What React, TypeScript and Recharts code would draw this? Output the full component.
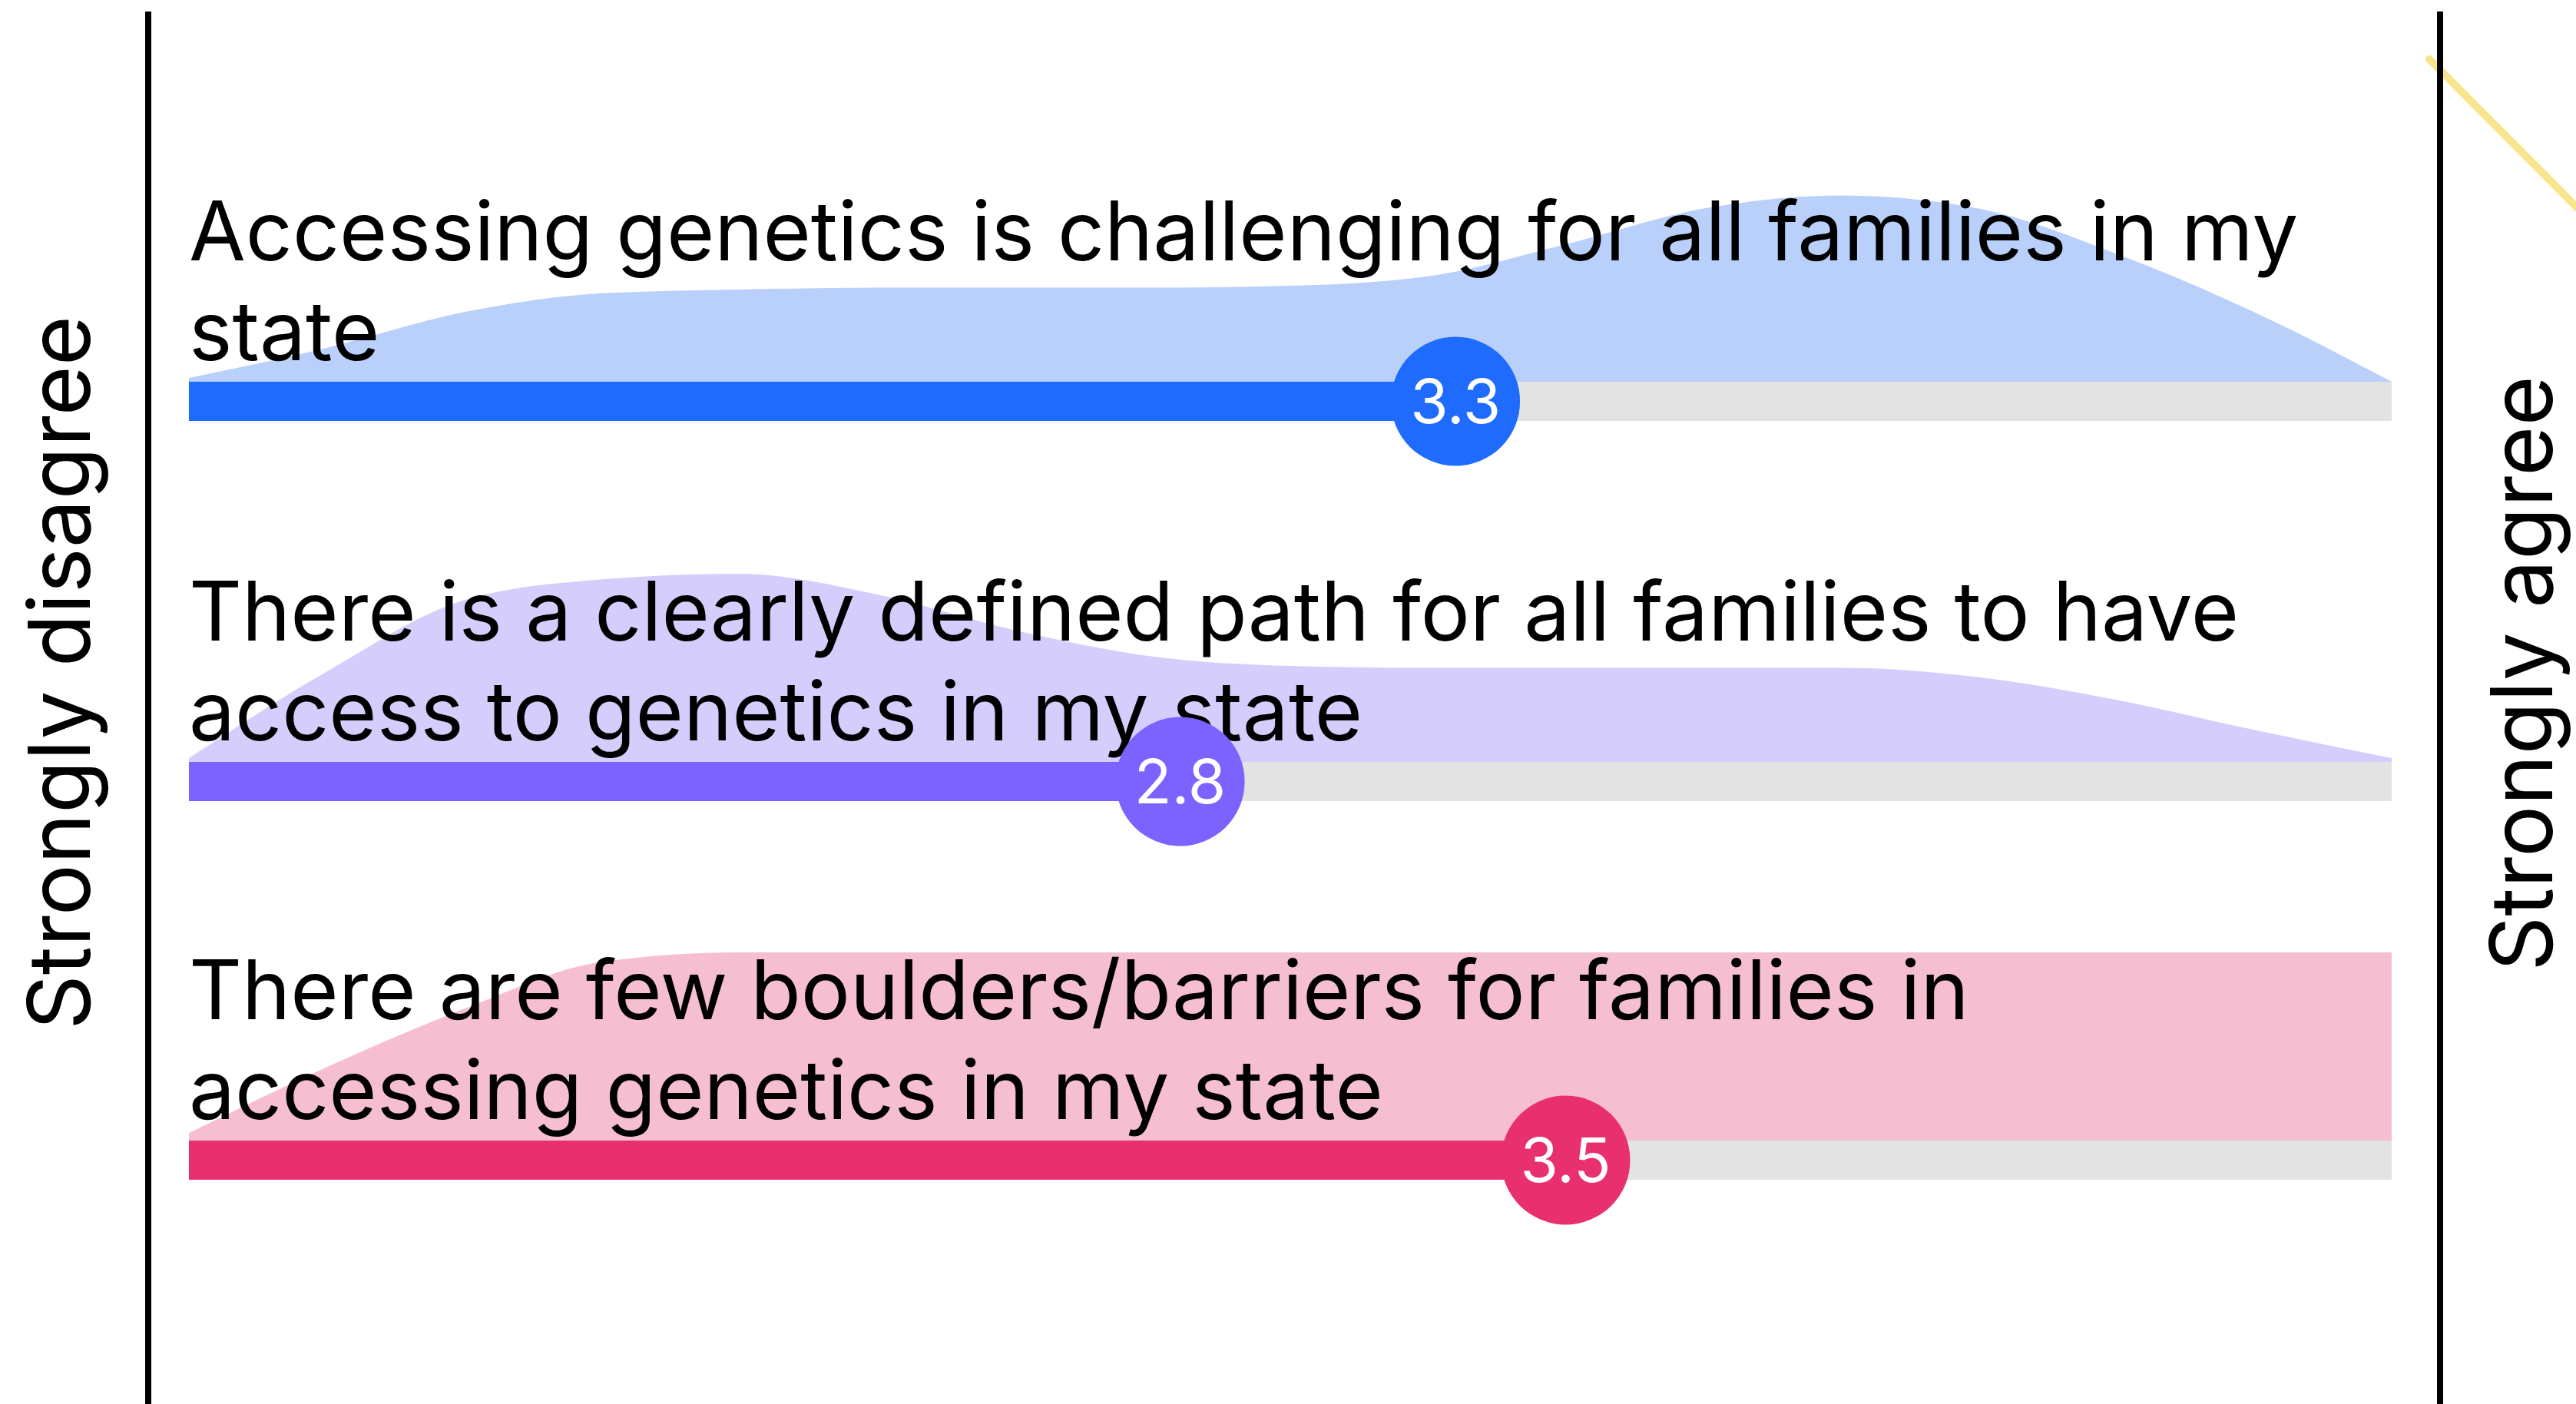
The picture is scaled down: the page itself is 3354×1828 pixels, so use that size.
import { ComposedChart, Area, XAxis, YAxis, ReferenceArea, ReferenceDot } from 'recharts';

// Likert scale positions (1 = strongly disagree, 5 = strongly agree)
const scalePoints = [1, 1.25, 1.5, 1.75, 2, 2.25, 2.5, 2.75, 3, 3.25, 3.5, 3.75, 4, 4.25, 4.5, 4.75, 5];

// response density, % of the tallest peak
const challengingDensity = [2, 18, 37, 47, 49, 50, 50, 50, 51, 56, 73, 92, 99, 92, 68, 37, 0];
const clearPathDensity = [2, 48, 86, 97, 100, 89, 70, 56, 51, 50, 50, 50, 50, 45, 33, 17, 2];
const fewBarriersDensity = [4, 39, 70, 95, 100, 100, 100, 100, 100, 100, 100, 100, 100, 100, 100, 100, 100];

const meanScores = [3.3, 2.8, 3.5];

const questionLines = [
  ['Accessing genetics is challenging for all families in my', 'state'],
  ['There is a clearly defined path for all families to have', 'access to genetics in my state'],
  ['There are few boulders/barriers for families in', 'accessing genetics in my state'],
];

const scaleLabels = ['Strongly disagree', 'Strongly agree'];

const W = 3354;
const H = 1828;
const BAR_TOPS = [497, 992, 1485];
const BAR_H = 51;
const DENSITY_PX = 2.45;
const FONT = 'Inter, "Noto Sans", sans-serif';

const colors = [
  { bar: '#1e6bfe', area: '#b9d0fb' },
  { bar: '#7c62fe', area: '#d5cefc' },
  { bar: '#e9306f', area: '#f5bed1' },
];

const densities = [challengingDensity, clearPathDensity, fewBarriersDensity];

const chartData = scalePoints.map((x, i) => ({
  x,
  d0: densities[0][i],
  d1: densities[1][i],
  d2: densities[2][i],
}));

const baseOf = (i: number) => H - BAR_TOPS[i];

function QuestionLabel(props: any) {
  const vb = props.viewBox || props;
  const x = vb.x;
  const y = vb.y;
  return (
    <text x={x} y={y - 158} fill="#000" fontSize={107} fontFamily={FONT}>
      <tspan x={x}>{props.lines[0]}</tspan>
      <tspan x={x} dy={130}>
        {props.lines[1]}
      </tspan>
    </text>
  );
}

export default function App() {
  return (
    <div style={{ position: 'absolute', left: 0, top: 0, width: W, height: H, background: '#fff', overflow: 'hidden' }}>
      <ComposedChart width={W} height={H} data={chartData} margin={{ top: 0, right: 240, bottom: 0, left: 246 }}>
        <XAxis dataKey="x" type="number" domain={[1, 5]} hide />
        <YAxis type="number" domain={[0, H]} allowDataOverflow hide />
        {colors.map((c, i) => (
          <Area
            key={'area' + i}
            type="monotone"
            dataKey={(d: any) => [baseOf(i), baseOf(i) + d['d' + i] * DENSITY_PX]}
            fill={c.area}
            fillOpacity={1}
            stroke="none"
            isAnimationActive={false}
          />
        ))}
        {colors.map((c, i) => (
          <ReferenceArea
            key={'track' + i}
            x1={1}
            x2={5}
            y1={baseOf(i) - BAR_H}
            y2={baseOf(i)}
            fill="#e3e3e3"
            fillOpacity={1}
            stroke="none"
          />
        ))}
        {colors.map((c, i) => (
          <ReferenceArea
            key={'bar' + i}
            x1={1}
            x2={meanScores[i]}
            y1={baseOf(i) - BAR_H}
            y2={baseOf(i)}
            fill={c.bar}
            fillOpacity={1}
            stroke="none"
            label={<QuestionLabel lines={questionLines[i]} />}
          />
        ))}
        {colors.map((c, i) => (
          <ReferenceDot
            key={'dot' + i}
            x={meanScores[i]}
            y={baseOf(i) - BAR_H / 2}
            r={84}
            fill={c.bar}
            stroke="none"
            label={{
              value: meanScores[i].toFixed(1),
              position: 'center',
              fill: '#fff',
              fontSize: 80,
              fontFamily: FONT,
            }}
          />
        ))}
      </ComposedChart>
      <svg width={W} height={H} style={{ position: 'absolute', left: 0, top: 0, pointerEvents: 'none' }}>
        <line x1={3163} y1={77} x2={3360} y2={275} stroke="#f8e48c" strokeWidth={10} strokeLinecap="round" />
        <line x1={193} y1={15} x2={193} y2={H} stroke="#000" strokeWidth={8} />
        <line x1={3177} y1={15} x2={3177} y2={H} stroke="#000" strokeWidth={8} />
        <text
          x={117}
          y={876}
          transform="rotate(-90 117 876)"
          textAnchor="middle"
          fontSize={112}
          fontFamily={FONT}
          fill="#000"
        >
          {scaleLabels[0]}
        </text>
        <text
          x={3323}
          y={877}
          transform="rotate(-90 3323 877)"
          textAnchor="middle"
          fontSize={112}
          fontFamily={FONT}
          fill="#000"
        >
          {scaleLabels[1]}
        </text>
      </svg>
    </div>
  );
}
